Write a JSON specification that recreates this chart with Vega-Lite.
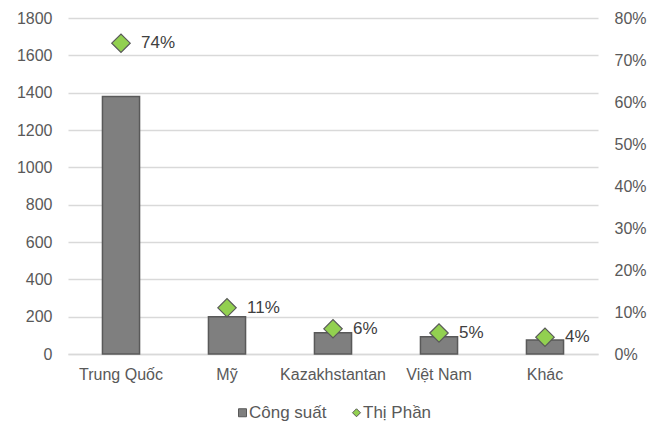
{
  "$schema": "https://vega.github.io/schema/vega-lite/v6.json",
  "width": 530,
  "height": 336,
  "autosize": {"type": "none"},
  "padding": {"left": 68, "top": 18, "right": 67, "bottom": 70},
  "background": "white",
  "config": {
    "font": "Liberation Sans",
    "view": {"stroke": null},
    "axis": {"labelFont": "Liberation Sans", "labelFontSize": 16, "labelColor": "#595959", "ticks": false, "domain": false, "title": null},
    "legend": {
      "orient": "none",
      "direction": "horizontal",
      "legendX": 166,
      "legendY": 386,
      "title": null,
      "labelFont": "Liberation Sans",
      "labelFontSize": 17,
      "labelColor": "#595959",
      "symbolSize": 64,
      "labelOffset": -2,
      "columnPadding": 21,
      "symbolStrokeColor": "#595959",
      "symbolStrokeWidth": 1
    }
  },
  "data": {
    "values": [
      {"country": "Trung Quốc", "capacity": 1380, "share": 0.74},
      {"country": "Mỹ", "capacity": 200, "share": 0.11},
      {"country": "Kazakhstantan", "capacity": 114, "share": 0.06},
      {"country": "Việt Nam", "capacity": 93, "share": 0.05},
      {"country": "Khác", "capacity": 75, "share": 0.04}
    ]
  },
  "encoding": {
    "x": {
      "field": "country",
      "type": "nominal",
      "sort": null,
      "scale": {"paddingInner": 0.65, "paddingOuter": 0.325},
      "axis": {"labelAngle": 0, "labelPadding": 12, "domain": true, "domainColor": "#D9D9D9", "domainWidth": 1.5}
    }
  },
  "layer": [
    {
      "mark": {"type": "bar", "stroke": "#595959", "strokeWidth": 1.5},
      "encoding": {
        "y": {
          "field": "capacity",
          "type": "quantitative",
          "scale": {"domain": [0, 1800], "nice": false},
          "axis": {"values": [0, 200, 400, 600, 800, 1000, 1200, 1400, 1600, 1800], "format": "d", "grid": true, "gridColor": "#D9D9D9", "gridWidth": 1.5, "labelPadding": 16}
        },
        "color": {
          "datum": "Công suất",
          "type": "nominal",
          "scale": {"domain": ["Công suất", "Thị Phần"], "range": ["#7F7F7F", "#92D050"]},
          "legend": {
            "encode": {
              "symbols": {
                "update": {
                  "shape": {"signal": "datum.label === 'Thị Phần' ? 'diamond' : 'square'"},
                  "stroke": {"value": "#595959"},
                  "strokeWidth": {"value": 1}
                }
              }
            }
          }
        }
      }
    },
    {
      "mark": {"type": "point", "shape": "diamond", "filled": true, "size": 340, "stroke": "#595959", "strokeWidth": 1.2, "opacity": 1},
      "encoding": {
        "y": {
          "field": "share",
          "type": "quantitative",
          "scale": {"domain": [0, 0.8], "nice": false},
          "axis": {"orient": "right", "values": [0, 0.1, 0.2, 0.3, 0.4, 0.5, 0.6, 0.7, 0.8], "format": ".0%", "grid": false, "labelPadding": 16}
        },
        "color": {
          "datum": "Thị Phần",
          "type": "nominal",
          "legend": {
            "encode": {
              "symbols": {
                "update": {
                  "shape": {"signal": "datum.label === 'Thị Phần' ? 'diamond' : 'square'"},
                  "stroke": {"value": "#595959"},
                  "strokeWidth": {"value": 1}
                }
              }
            }
          }
        }
      }
    },
    {
      "mark": {"type": "text", "align": "left", "baseline": "middle", "dx": 20, "fontSize": 17, "color": "#404040", "font": "Liberation Sans"},
      "encoding": {
        "y": {"field": "share", "type": "quantitative", "scale": {"domain": [0, 0.8], "nice": false}, "axis": null},
        "text": {"field": "share", "type": "quantitative", "format": ".0%"}
      }
    }
  ],
  "resolve": {"scale": {"y": "independent"}}
}
